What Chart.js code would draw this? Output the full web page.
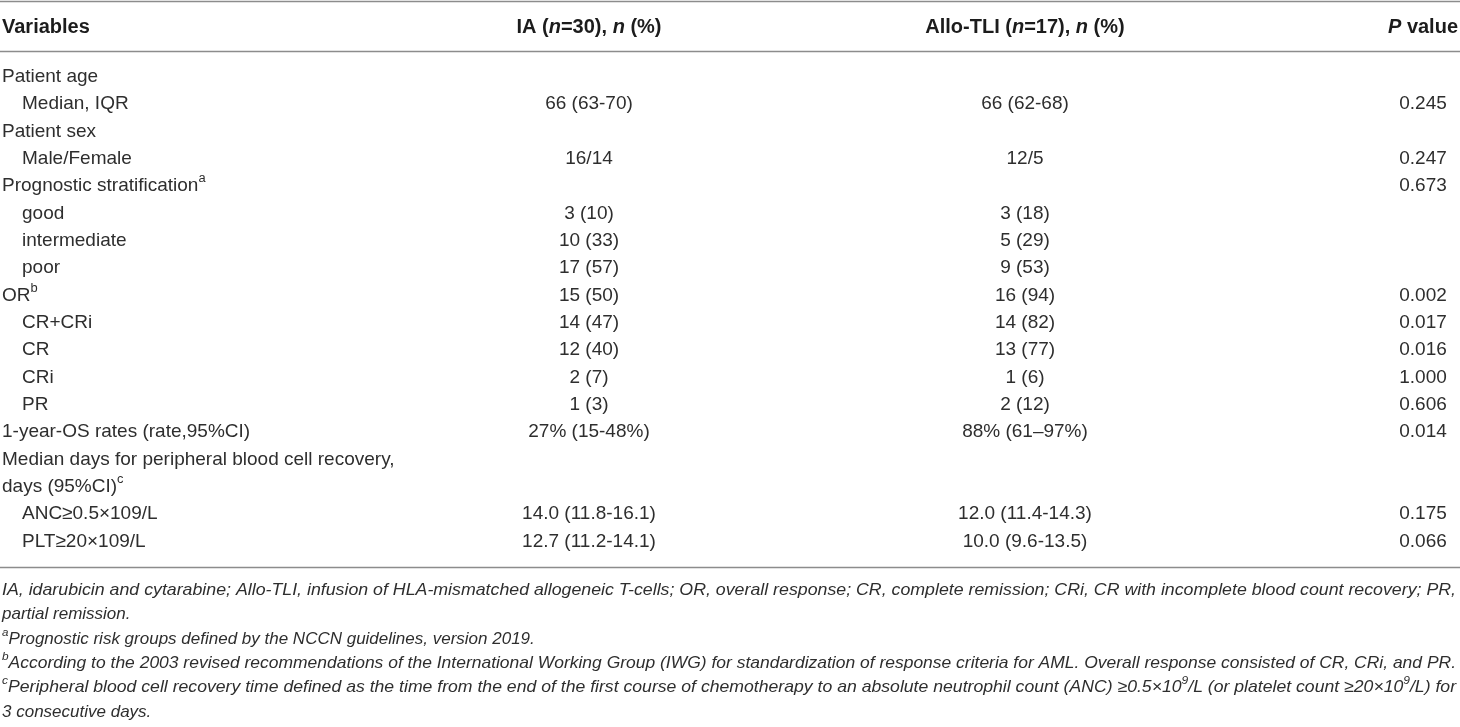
<!DOCTYPE html>
<html>
<head>
<meta charset="utf-8">
<script src="https://cdn.jsdelivr.net/npm/chart.js@4/dist/chart.umd.min.js"></script>
<style>
  html, body { margin: 0; padding: 0; background: #ffffff; }
  #wrap { position: relative; width: 1460px; height: 727px; }
</style>
</head>
<body>
<div id="wrap"><canvas id="c"></canvas></div>
<script>
// ---------------- DATA ----------------
const variables = [
  'Patient age', 'Median, IQR', 'Patient sex', 'Male/Female',
  'Prognostic stratification', 'good', 'intermediate', 'poor',
  'OR', 'CR+CRi', 'CR', 'CRi', 'PR',
  '1-year-OS rates (rate,95%CI)',
  'Median days for peripheral blood cell recovery,', 'days (95%CI)',
  'ANC≥0.5×109/L', 'PLT≥20×109/L'
];
const variableNotes = ['', '', '', '', 'a', '', '', '', 'b', '', '', '', '', '', '', 'c', '', ''];
const variableLevel = [0, 1, 0, 1, 0, 1, 1, 1, 0, 1, 1, 1, 1, 0, 0, 0, 1, 1];
const iaValues = [
  '', '66 (63-70)', '', '16/14', '', '3 (10)', '10 (33)', '17 (57)',
  '15 (50)', '14 (47)', '12 (40)', '2 (7)', '1 (3)', '27% (15-48%)',
  '', '', '14.0 (11.8-16.1)', '12.7 (11.2-14.1)'
];
const alloValues = [
  '', '66 (62-68)', '', '12/5', '', '3 (18)', '5 (29)', '9 (53)',
  '16 (94)', '14 (82)', '13 (77)', '1 (6)', '2 (12)', '88% (61–97%)',
  '', '', '12.0 (11.4-14.3)', '10.0 (9.6-13.5)'
];
const pValues = [
  '', '0.245', '', '0.247', '0.673', '', '', '',
  '0.002', '0.017', '0.016', '1.000', '0.606', '0.014',
  '', '', '0.175', '0.066'
];
// header texts: [text, isItalic]
const headerVariables = [['Variables', false]];
const headerIA = [['IA (', false], ['n', true], ['=30), ', false], ['n', true], [' (%)', false]];
const headerAllo = [['Allo-TLI (', false], ['n', true], ['=17), ', false], ['n', true], [' (%)', false]];
const headerP = [['P', true], [' value', false]];
// footnotes: [superscript, text-segments, justify]
const footnotes = [
  ['', [['IA, idarubicin and cytarabine; Allo-TLI, infusion of HLA-mismatched allogeneic T-cells; OR, overall response; CR, complete remission; CRi, CR with incomplete blood count recovery; PR,', false]], true],
  ['', [['partial remission.', false]], false],
  ['a', [['Prognostic risk groups defined by the NCCN guidelines, version 2019.', false]], false],
  ['b', [['According to the 2003 revised recommendations of the International Working Group (IWG) for standardization of response criteria for AML. Overall response consisted of CR, CRi, and PR.', false]], true],
  ['c', [['Peripheral blood cell recovery time defined as the time from the end of the first course of chemotherapy to an absolute neutrophil count (ANC) ≥0.5×10', false], ['9', true], ['/L (or platelet count ≥20×10', false], ['9', true], ['/L) for', false]], true],
  ['', [['3 consecutive days.', false]], false]
];

// ---------------- STYLE / LAYOUT ----------------
const FAMILY = '"Liberation Sans", Arial, Helvetica, sans-serif';
const BODY_SIZE = 19, HEAD_SIZE = 20, NOTE_SIZE = 17;
const TEXT = '#2e2e2e', HEAD_TEXT = '#1c1c1c', RULE = '#8c8c8c';
const INDENT = 20;
const columns = [
  { key: 'var',  at: 2,    align: 'left',   header: headerVariables, values: variables },
  { key: 'ia',   at: 589,  align: 'center', header: headerIA,   values: iaValues },
  { key: 'allo', at: 1025, align: 'center', header: headerAllo, values: alloValues },
  { key: 'p',    at: 1423, align: 'center', header: headerP,    values: pValues }
];
const HEADER_Y = 27, RULES_Y = [1, 51, 567];
const NOTE_Y0 = 590, NOTE_STEP = 24.4, NOTE_RIGHT = 1456;

// ---------------- RICH TEXT ----------------
function drawRich(ctx, segs, x, y, align, size, weight, fitWidth) {
  let total = 0;
  const parts = segs.map(s => {
    const fs = s.sup ? size * 0.68 : size;
    const font = `${s.italic ? 'italic ' : ''}${weight} ${fs}px ${FAMILY}`;
    ctx.font = font;
    const w = ctx.measureText(s.t).width;
    total += w;
    return { t: s.t, font, w, dy: s.sup ? -size * 0.38 : 0 };
  });
  const k = fitWidth ? fitWidth / total : 1;
  const start = align === 'center' ? x - total * k / 2 : align === 'right' ? x - total * k : x;
  ctx.save();
  ctx.translate(start, y);
  ctx.scale(k, 1);
  ctx.textAlign = 'left';
  ctx.textBaseline = 'middle';
  let cx = 0;
  parts.forEach(p => { ctx.font = p.font; ctx.fillText(p.t, cx, p.dy); cx += p.w; });
  ctx.restore();
}

// ---------------- DATASETS (one per column) ----------------
const datasets = columns.map(col => ({
  label: col.key,
  align: col.align,
  pointRadius: 0,
  showLine: false,
  data: col.values.map((v, i) => ({
    x: col.at + (col.key === 'var' ? variableLevel[i] * INDENT : 0),
    y: variables[i],
    text: v,
    note: col.key === 'var' ? variableNotes[i] : ''
  })).filter(d => d.text !== '')
}));

const tablePlugin = {
  id: 'tableCells',
  afterDatasetsDraw(chart) {
    const ctx = chart.ctx;
    const xs = chart.scales.x;
    // rules
    ctx.save();
    ctx.strokeStyle = RULE;
    ctx.lineWidth = 1.4;
    RULES_Y.forEach(y => {
      ctx.beginPath();
      ctx.moveTo(xs.left, y + 0.5);
      ctx.lineTo(xs.right, y + 0.5);
      ctx.stroke();
    });
    ctx.restore();
    // header
    ctx.fillStyle = HEAD_TEXT;
    columns.forEach(col => {
      const segs = col.header.map(h => ({ t: h[0], italic: h[1] }));
      drawRich(ctx, segs, xs.getPixelForValue(col.at), HEADER_Y, col.align, HEAD_SIZE, 'bold');
    });
    // cells
    ctx.fillStyle = TEXT;
    chart.data.datasets.forEach((ds, di) => {
      const meta = chart.getDatasetMeta(di);
      meta.data.forEach((pt, i) => {
        const raw = ds.data[i];
        const segs = [{ t: raw.text }];
        if (raw.note) segs.push({ t: raw.note, sup: true });
        drawRich(ctx, segs, pt.x, pt.y, ds.align, BODY_SIZE, 'normal');
      });
    });
    // footnotes
    ctx.fillStyle = TEXT;
    const left = xs.getPixelForValue(columns[0].at);
    footnotes.forEach((fn, i) => {
      const segs = [];
      if (fn[0]) segs.push({ t: fn[0], italic: true, sup: true });
      fn[1].forEach(s => segs.push({ t: s[0], italic: true, sup: s[1] }));
      drawRich(ctx, segs, left, NOTE_Y0 + i * NOTE_STEP, 'left', NOTE_SIZE, 'normal',
        fn[2] ? (NOTE_RIGHT - left) : null);
    });
  }
};

new Chart(document.getElementById('c'), {
  type: 'scatter',
  data: { labels: variables, datasets },
  options: {
    responsive: true,
    maintainAspectRatio: false,
    animation: false,
    events: [],
    layout: { padding: { left: 0, right: 0, top: 63, bottom: 172 } },
    plugins: { legend: { display: false }, tooltip: { enabled: false } },
    scales: {
      x: { type: 'linear', min: 0, max: 1460, display: false },
      y: { type: 'category', labels: variables, offset: true, display: false }
    }
  },
  plugins: [tablePlugin]
});
</script>
</body>
</html>
